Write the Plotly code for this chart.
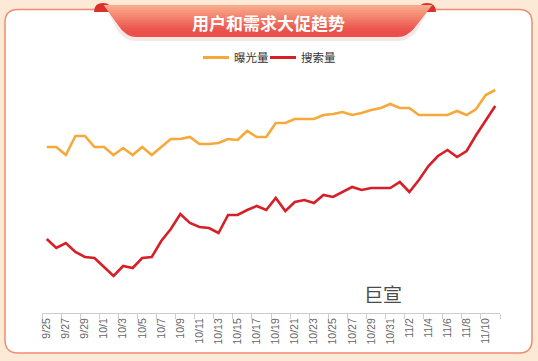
import plotly.graph_objects as go

# ---------------- data ----------------
dates = ["9/25", "9/26", "9/27", "9/28", "9/29", "9/30", "10/1", "10/2", "10/3", "10/4",
         "10/5", "10/6", "10/7", "10/8", "10/9", "10/10", "10/11", "10/12", "10/13", "10/14",
         "10/15", "10/16", "10/17", "10/18", "10/19", "10/20", "10/21", "10/22", "10/23", "10/24",
         "10/25", "10/26", "10/27", "10/28", "10/29", "10/30", "10/31", "11/1", "11/2", "11/3",
         "11/4", "11/5", "11/6", "11/7", "11/8", "11/9", "11/10", "11/11"]

exposure = [166, 166, 158, 177, 177, 166, 166, 158, 165, 158,
            166, 158, 166, 174, 174, 176, 169, 169, 170, 174,
            173, 182, 176, 176, 190, 190, 194, 194, 194, 198,
            199, 201, 198, 200, 203, 205, 209, 205, 205, 198,
            198, 198, 198, 202, 198, 204, 218, 223]

search = [74, 65, 70, 61, 56, 55, 46, 37, 47, 45,
          55, 56, 72, 84, 99, 90, 86, 85, 80, 98,
          98, 103, 107, 103, 115, 102, 111, 113, 110, 118,
          116, 121, 126, 123, 125, 125, 125, 131, 121, 133,
          147, 157, 163, 156, 162, 178, 193, 207]

series_names = ["曝光量", "搜索量"]
series_colors = ["#F6A93B", "#D61F26"]
title_text = "用户和需求大促趋势"
watermark = "巨宣"

# ---------------- geometry helpers ----------------
W, H = 538, 361
ML, MR, MT, MB = 42, 38, 63, 48
PW, PH = W - ML - MR, H - MT - MB


def px(X):
    return (X - ML) / PW


def py(Y):
    return (H - MB - Y) / PH


def P(X, Y):
    return f"{px(X):.5f},{py(Y):.5f}"


def rrect(x0, y0, x1, y1, r):
    return (f"M {P(x0 + r, y0)} L {P(x1 - r, y0)} Q {P(x1, y0)} {P(x1, y0 + r)} "
            f"L {P(x1, y1 - r)} Q {P(x1, y1)} {P(x1 - r, y1)} L {P(x0 + r, y1)} "
            f"Q {P(x0, y1)} {P(x0, y1 - r)} L {P(x0, y0 + r)} Q {P(x0, y0)} {P(x0 + r, y0)} Z")


def lerp_color(c1, c2, t):
    a = [int(c1[i:i + 2], 16) for i in (1, 3, 5)]
    b = [int(c2[i:i + 2], 16) for i in (1, 3, 5)]
    return "#" + "".join(f"{round(a[k] + (b[k] - a[k]) * t):02x}" for k in range(3))


shapes = []
# white card
shapes.append(dict(type="path", xref="paper", yref="paper", layer="below",
                   path=rrect(5, 9.5, 532, 353, 13),
                   fillcolor="#ffffff", line=dict(color="#EE8C72", width=1.5)))


def banner_left(y):
    return 103 + (y - 4) * (127 - 103) / 33


def banner_right(y):
    return 433 - (y - 4) * (433 - 407) / 33


yb = 37
r = 9
shadow = (f"M {P(banner_left(8), 8)} L {P(banner_right(8), 8)} "
          f"L {P(banner_right(yb - r) + 2, yb - r + 4)} Q {P(banner_right(yb) + 1, yb + 4)} {P(banner_right(yb) - r, yb + 4)} "
          f"L {P(banner_left(yb) + r, yb + 4)} Q {P(banner_left(yb) - 1, yb + 4)} {P(banner_left(yb - r) - 2, yb - r + 4)} Z")
shapes.append(dict(type="path", xref="paper", yref="paper", layer="below", path=shadow,
                   fillcolor="rgba(200,120,110,0.18)", line=dict(width=0)))

# ears
for (ex0, ex1) in [(94, 112), (418, 436)]:
    ear = (f"M {P(ex0, 12)} Q {P(ex0, 3)} {P((ex0 + ex1) / 2, 3)} Q {P(ex1, 3)} {P(ex1, 12)} Z")
    shapes.append(dict(type="path", xref="paper", yref="paper", layer="below", path=ear,
                       fillcolor="#D9312C", line=dict(width=0)))

# banner base
base = (f"M {P(banner_left(5), 5)} L {P(banner_right(5), 5)} "
        f"L {P(banner_right(yb - r), yb - r)} Q {P(banner_right(yb), yb)} {P(banner_right(yb) - r, yb)} "
        f"L {P(banner_left(yb) + r, yb)} Q {P(banner_left(yb), yb)} {P(banner_left(yb - r), yb - r)} Z")
shapes.append(dict(type="path", xref="paper", yref="paper", layer="below", path=base,
                   fillcolor="#EA4F49", line=dict(width=0)))
top_c, bot_c = "#F8AA8A", "#EA4F49"
n = 10
y_start, y_end = 5, 30
for i in range(n):
    ya = y_start + (y_end - y_start) * i / n
    yb2 = y_start + (y_end - y_start) * (i + 1) / n + 0.4
    col = lerp_color(top_c, bot_c, i / n)
    strip = (f"M {P(banner_left(ya), ya)} L {P(banner_right(ya), ya)} "
             f"L {P(banner_right(yb2), yb2)} L {P(banner_left(yb2), yb2)} Z")
    shapes.append(dict(type="path", xref="paper", yref="paper", layer="below", path=strip,
                       fillcolor=col, line=dict(width=0)))

# legend (drawn compactly like the original)
annotations = []
legend_items = [(203, 229, 232), (270, 296, 299)]
for (lx0, lx1, tx), name, col in zip(legend_items, series_names, series_colors):
    shapes.append(dict(type="line", xref="paper", yref="paper", layer="above",
                       x0=px(lx0), x1=px(lx1), y0=py(57.5), y1=py(57.5),
                       line=dict(color=col, width=3)))
    annotations.append(dict(text=name, xref="paper", yref="paper", x=px(tx), y=py(57),
                            xanchor="left", yanchor="middle", showarrow=False,
                            font=dict(size=11.5, color="#333333", family="Noto Sans CJK SC")))

annotations += [
    dict(text=f"<b>{title_text}</b>", xref="paper", yref="paper", x=px(268), y=py(22),
         xanchor="center", yanchor="middle", showarrow=False,
         font=dict(size=17, color="#ffffff", family="Noto Sans CJK SC")),
    dict(text=watermark, xref="paper", yref="paper", x=px(383), y=py(293),
         xanchor="center", yanchor="middle", showarrow=False,
         font=dict(size=19, color="#4a4a4a", family="Noto Sans CJK SC")),
]

# ---------------- figure ----------------
fig = go.Figure()
for name, vals, col in zip(series_names, [exposure, search], series_colors):
    fig.add_trace(go.Scatter(x=dates, y=vals, name=name, mode="lines",
                             line=dict(color=col, width=2.6)))

fig.update_layout(
    width=W, height=H,
    margin=dict(l=ML, r=MR, t=MT, b=MB, pad=0),
    paper_bgcolor="#FCEAD6",
    plot_bgcolor="rgba(0,0,0,0)",
    shapes=shapes,
    font=dict(family="Noto Sans CJK SC, Noto Sans, sans-serif"),
    showlegend=False,
    annotations=annotations,
)

fig.update_xaxes(type="category", range=[-0.5, len(dates) - 0.5],
                 tickmode="linear", tick0=0, dtick=2, tickson="boundaries",
                 ticks="outside", ticklen=5, tickcolor="#cccccc", tickwidth=1,
                 showline=True, linecolor="#cccccc", linewidth=1,
                 showgrid=False, zeroline=False, tickangle=-90,
                 tickfont=dict(size=10.5, color="#666666", family="Liberation Sans, Arial"))
fig.update_yaxes(range=[0, 250], visible=False, showgrid=False, zeroline=False)

fig.write_html("out.html", config={"displayModeBar": False},
               post_script="document.body.style.margin='0';document.body.style.overflow='hidden';")
